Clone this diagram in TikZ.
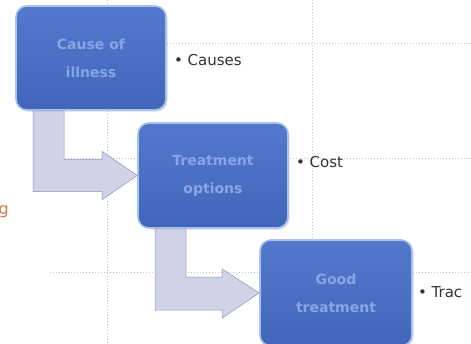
\documentclass[tikz,border=0pt]{standalone}
\usepackage{fontspec}
\setmainfont{DejaVu Sans}
\usetikzlibrary{calc,shadows}
\definecolor{boxtop}{HTML}{5479CC}
\definecolor{boxbot}{HTML}{4066BA}
\definecolor{boxedge}{HTML}{A9C1EE}
\definecolor{boxtext}{HTML}{86A6E6}
\definecolor{arrfill}{HTML}{D0D3E8}
\definecolor{arredge}{HTML}{8E93AC}
\definecolor{gridc}{HTML}{C4C4C4}
\definecolor{labc}{HTML}{333333}
\definecolor{orangec}{HTML}{CF7F4C}
\tikzset{
  stepbox/.style={rounded corners=11pt, top color=boxtop, bottom color=boxbot,
    draw=boxedge, line width=1.6pt, text=boxtext, align=center,
    font=\fontsize{14}{28}\selectfont\bfseries, inner sep=0pt,
    drop shadow={shadow xshift=1.5pt, shadow yshift=-1.5pt, opacity=0.25}},
  arrowshape/.style={fill=arrfill, draw=arredge, line width=0.5pt, line join=miter},
  gridline/.style={gridc, dotted, line width=1pt},
  bullab/.style={anchor=west, text=labc, font=\fontsize{15}{18}\selectfont, inner sep=0pt}
}
\begin{document}
\begin{tikzpicture}[x=1pt,y=1pt]
\useasboundingbox (0,0) rectangle (471,-343);
\clip (0,0) rectangle (471,-343);
\fill[white] (0,0) rectangle (471,-343);
% dotted grid
\draw[gridline] (107,0) -- (107,-343);
\draw[gridline] (312,0) -- (312,-343);
\draw[gridline] (50,-43) -- (471,-43);
\draw[gridline] (50,-158) -- (471,-158);
\draw[gridline] (50,-272) -- (471,-272);
% boxes
\node[stepbox, minimum width=150pt, minimum height=104pt] (b1) at (91,-58) {Cause of\\illness};
\node[stepbox, minimum width=150pt, minimum height=105pt] (b2) at (213,-175.5) {Treatment\\options};
\node[stepbox, minimum width=152pt, minimum height=106pt] (b3) at (336,-293) {Good\\treatment};
% bent arrows
\draw[arrowshape] ($(b1.south west)+(18,0)$) coordinate (s1) -- ++(31,0)
  |- ($(b2.west)+(-35,16)$) -- ++(0,8) -- (b2.west) -- ++(-35,-24) -- ++(0,8) -| (s1) -- cycle;
\draw[arrowshape] ($(b2.south west)+(18,0)$) coordinate (s2) -- ++(31,0)
  |- ($(b3.west)+(-37,16)$) -- ++(0,8) -- (b3.west) -- ++(-37,-25) -- ++(0,8) -| (s2) -- cycle;
% labels
\node[bullab] (l1) at ($(b1.east)+(7,-2)$) {\textbullet\ Causes};
\node[bullab] (l2) at ($(b2.east)+(7,13)$) {\textbullet\ Cost};
\node[bullab] (l3) at ($(b3.east)+(5,1)$) {\textbullet\ Trac};
\node[anchor=base east, text=orangec, font=\fontsize{16}{18}\selectfont, inner sep=0pt] (og) at (9,-214) {g};
\end{tikzpicture}
\end{document}
